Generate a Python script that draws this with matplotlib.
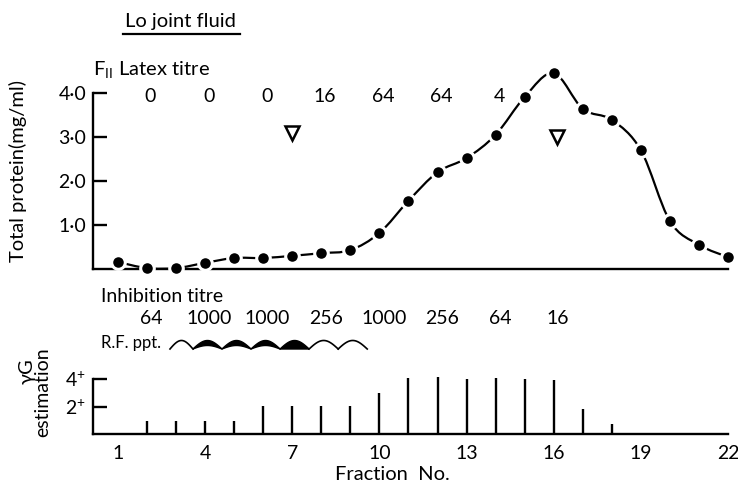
import numpy as np
import matplotlib
matplotlib.use("Agg")
import matplotlib.pyplot as plt
from matplotlib.path import Path
from matplotlib.patches import PathPatch, Polygon
from matplotlib.lines import Line2D
from matplotlib import transforms

# ---------------- data ----------------
fractions = list(range(1, 23))
total_protein = [0.16, 0.02, 0.02, 0.14, 0.25, 0.25, 0.30, 0.36, 0.43, 0.82,
                 1.55, 2.20, 2.52, 3.05, 3.91, 4.45, 3.64, 3.39, 2.70, 1.09,
                 0.55, 0.27]
triangle_fraction = [7, 16.1]
triangle_value = [3.1, 3.0]

latex_fraction = [2, 4, 6, 8, 10, 12, 14]
latex_titre = ["0", "0", "0", "16", "64", "64", "4"]

inhib_fraction = [2, 4, 6, 8, 10, 12, 14, 16]
inhib_titre = ["64", "1000", "1000", "256", "1000", "256", "64", "16"]

rf_fraction = [3, 4, 5, 6, 7, 8, 9]
rf_level = [1, 2, 2, 2, 3, 1, 1]   # 1 thin arc, 2 thick arc, 3 filled arc

gammaG = [0, 0.95, 0.95, 0.95, 0.95, 2.05, 2.05, 2.05, 2.05, 3.0,
          4.1, 4.15, 4.0, 4.05, 4.0, 3.95, 1.84, 0.75, 0.08, 0, 0, 0]

x_ticks = [1, 4, 7, 10, 13, 16, 19, 22]
upper_yticks = [1, 2, 3, 4]
upper_yticklabels = ["1·0", "2·0", "3·0", "4·0"]
lower_yticks = [2, 4]
lower_yticklabels = ["2$^{+}$", "4$^{+}$"]

# ---------------- style ----------------
plt.rcParams['font.family'] = ['Lato', 'DejaVu Sans']
plt.rcParams['mathtext.fontset'] = 'custom'
plt.rcParams['mathtext.rm'] = 'Lato'
plt.rcParams['mathtext.it'] = 'Lato'
plt.rcParams['mathtext.bf'] = 'Lato'

W, H = 738, 487
fig = plt.figure(figsize=(W / 100, H / 100), dpi=100)

def fy(px):
    return 1 - px / H

def fx(px):
    return px / W

FS = 14.5     # words
NS = 14       # numbers
ax_left, ax_right = 93, 728
xlo = 1 - 25 / 29.05
xhi = 22.0

# upper axes: 0 at y=269px, 44 px per unit
up_top_val = 4.7
up_bottom_px = 269
up_h = up_top_val * 44
ax1 = fig.add_axes([fx(ax_left), fy(up_bottom_px), (ax_right - ax_left) / W, up_h / H])
ax1.set_xlim(xlo, xhi)
ax1.set_ylim(0, up_top_val)

# lower axes: 0 at y=434px, 13.75 px per unit
lo_top_val = 4.4
lo_bottom_px = 434
lo_h = lo_top_val * 13.75
ax2 = fig.add_axes([fx(ax_left), fy(lo_bottom_px), (ax_right - ax_left) / W, lo_h / H])
ax2.set_xlim(xlo, xhi)
ax2.set_ylim(0, lo_top_val)

for ax in (ax1, ax2):
    ax.patch.set_alpha(0)
    for s in ('top', 'right'):
        ax.spines[s].set_visible(False)
    for s in ('left', 'bottom'):
        ax.spines[s].set_linewidth(1.7)
        ax.spines[s].set_color('black')

# ---- upper panel ----
def catmull_rom_path(xs, ys):
    P = np.column_stack([xs, ys]).astype(float)
    n = len(P)
    verts = [P[0]]
    codes = [Path.MOVETO]
    for i in range(n - 1):
        p0 = P[i - 1] if i > 0 else P[i]
        p1 = P[i]
        p2 = P[i + 1]
        p3 = P[i + 2] if i + 2 < n else P[i + 1]
        c1 = p1 + (p2 - p0) / 6
        c2 = p2 - (p3 - p1) / 6
        verts += [c1, c2, p2]
        codes += [Path.CURVE4] * 3
    return Path(verts, codes)

curve = PathPatch(catmull_rom_path(fractions, total_protein), fill=False,
                  lw=1.6, ec='black', clip_on=False, zorder=2)
ax1.add_patch(curve)
ax1.plot(fractions, total_protein, 'o', ms=9.8, mfc='black', mec='white',
         mew=2.2, clip_on=False, zorder=3)
ax1.plot(triangle_fraction, triangle_value, 'v', ms=10, mfc='white', mec='black',
         mew=1.8, clip_on=False, zorder=3)

ax1.spines['left'].set_bounds(0, 4)
ax1.set_xticks([])
ax1.set_yticks(upper_yticks)
ax1.set_yticklabels(upper_yticklabels)
ax1.tick_params(axis='y', direction='in', length=10, width=1.7, pad=5,
                labelsize=NS)

# ---- lower panel ----
ax2.vlines(fractions, 0, gammaG, colors='black', lw=1.7, zorder=2)
ax2.spines['left'].set_bounds(0, 4)
ax2.set_yticks(lower_yticks)
ax2.set_yticklabels(lower_yticklabels)
ax2.tick_params(axis='y', direction='in', length=10, width=1.7, pad=5,
                labelsize=NS)
ax2.set_xticks(x_ticks)
ax2.set_xticklabels([str(v) for v in x_ticks])
ax2.tick_params(axis='x', length=0, pad=8, labelsize=NS)

# ---- texts ----
blend = transforms.blended_transform_factory(ax1.transData, fig.transFigure)

fig.text(fx(180), fy(22), "Lo joint fluid", fontsize=FS, ha='center', va='center')
fig.add_artist(Line2D([fx(123), fx(240)], [fy(34), fy(34)], color='black', lw=1.6))

fig.text(fx(93), fy(69), r"F$_{\mathrm{II}}$ Latex titre", fontsize=FS,
         ha='left', va='center')
for f, t in zip(latex_fraction, latex_titre):
    fig.text(f + 0.12, fy(96), t, fontsize=NS, ha='center', va='center',
             transform=blend)

fig.text(fx(101), fy(296), "Inhibition titre", fontsize=FS - 0.5,
         ha='left', va='center')
for f, t in zip(inhib_fraction, inhib_titre):
    fig.text(f + 0.15, fy(319), t, fontsize=NS, ha='center', va='center',
             transform=blend)

fig.text(fx(101), fy(343), "R.F. ppt.", fontsize=FS - 2.5, ha='left', va='center')

# R.F. precipitation arcs
t = np.linspace(0, 1, 40)
base_px = 349
for f, lvl in zip(rf_fraction, rf_level):
    x0 = max(f - 0.42, 2.79)
    x1 = f + 0.58
    xs = x0 + (x1 - x0) * t
    up = base_px - 8.5 * np.sin(np.pi * t)
    if lvl == 1:
        ax1.add_line(Line2D(xs, fy(up), color='black', lw=1.2,
                            transform=blend, clip_on=False))
    else:
        low_h = 3.5 if lvl == 2 else 0.0
        low = base_px - low_h * np.sin(np.pi * t)
        pts = np.column_stack([np.concatenate([xs, xs[::-1]]),
                               np.concatenate([fy(up), fy(low[::-1])])])
        ax1.add_patch(Polygon(pts, closed=True, fc='black', ec='black', lw=1.0,
                              transform=blend, clip_on=False))

fig.text(fx(18), fy(171), "Total protein(mg/ml)", fontsize=FS, rotation=90,
         ha='center', va='center')
fig.text(fx(27), fy(371), "γG", fontsize=FS, rotation=90, ha='center', va='center')
fig.text(fx(43), fy(392), "estimation", fontsize=FS - 0.5, rotation=90,
         ha='center', va='center')
fig.text(fx(392), fy(474), "Fraction  No.", fontsize=FS, ha='center', va='center')

fig.savefig("out.png", dpi=100)
